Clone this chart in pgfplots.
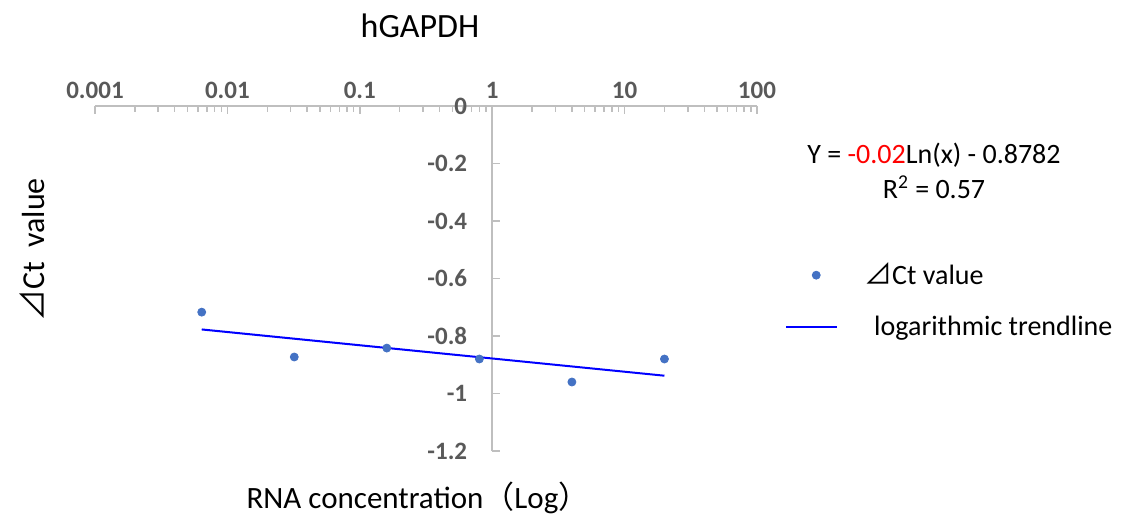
\documentclass[border=0pt]{standalone}
\usepackage{pgfplots}
\pgfplotsset{compat=1.18}
\usepackage{fontspec}
\setmainfont{Carlito}
\newfontfamily\cjk{Noto Sans CJK SC}
\definecolor{ptblue}{RGB}{68,114,196}
\definecolor{axgray}{RGB}{191,191,191}
\definecolor{lblgray}{RGB}{89,89,89}
\pgfplotsset{
  scatleg/.style={legend image code/.code={\path[draw=none] (0pt,0pt) -- (25.5pt,0pt); \draw[##1] plot coordinates {(15pt,0pt)};}},
  lineleg/.style={legend image code/.code={\draw[##1] (0pt,0pt) -- (25.5pt,0pt);}},
}
\begin{document}
\begin{tikzpicture}
\path[use as bounding box] (0,0) rectangle (560.5pt,-260pt);
\begin{axis}[
  at={(47.5pt,-53pt)}, anchor=north west,
  scale only axis, width=331pt, height=172.5pt,
  xmode=log, xmin=0.001, xmax=100, ymin=-1.2, ymax=0,
  axis x line=top, axis y line=middle,
  axis line style={-, draw=axgray, line width=0.75pt},
  hide obscured y ticks=false, hide obscured x ticks=false,
  xtick={0.001,0.01,0.1,1,10,100},
  xticklabels={0.001,0.01,0.1,1,10,100},
  ytick={-1.2,-1,-0.8,-0.6,-0.4,-0.2,0},
  yticklabels={-1.2,-1,-0.8,-0.6,-0.4,-0.2,0},
  ticklabel style={font=\fontsize{12.5}{14}\selectfont\bfseries, text=lblgray},
  /pgf/number format/assume math mode=true,
  tick style={draw=axgray, line width=0.75pt},
  major tick length=4pt, minor tick length=3pt,
  tick align=inside,
  yticklabel style={xshift=-9pt},
  clip=false,
  legend cell align=left,
  legend style={draw=none, fill=none, at={(1.033,0.57)}, anchor=north west,
    font=\fontsize{14}{16}\selectfont, row sep=10pt},
]
\addplot[only marks, mark=*, mark size=2pt, color=ptblue, scatleg]
  coordinates {(0.0064,-0.717) (0.032,-0.873) (0.16,-0.842) (0.8,-0.880) (4,-0.960) (20,-0.880)};
\addlegendentry{\hspace{11pt}{\cjk ⊿}Ct value}
\addplot[blue, line width=1pt, lineleg]
  coordinates {(0.0064,-0.7772) (20,-0.9381)};
\addlegendentry{\hspace{16pt}logarithmic trendline}
\end{axis}
\node[font=\fontsize{17}{20}\selectfont] at (210pt,-13pt) {hGAPDH};
\node[font=\fontsize{15.5}{18}\selectfont] at (209pt,-249pt) {RNA concentration{\cjk （}Log{\cjk ）}};
\node[rotate=90, font=\fontsize{16}{18}\selectfont] at (16pt,-125pt) {{\cjk ⊿}Ct\ \ value};
\node[font=\fontsize{14}{16}\selectfont] at (467pt,-77.5pt) {Y = \textcolor{red}{-0.02}Ln(x) - 0.8782};
\node[font=\fontsize{14}{16}\selectfont] at (467pt,-93.5pt) {R\textsuperscript{2} = 0.57};
\end{tikzpicture}
\end{document}
